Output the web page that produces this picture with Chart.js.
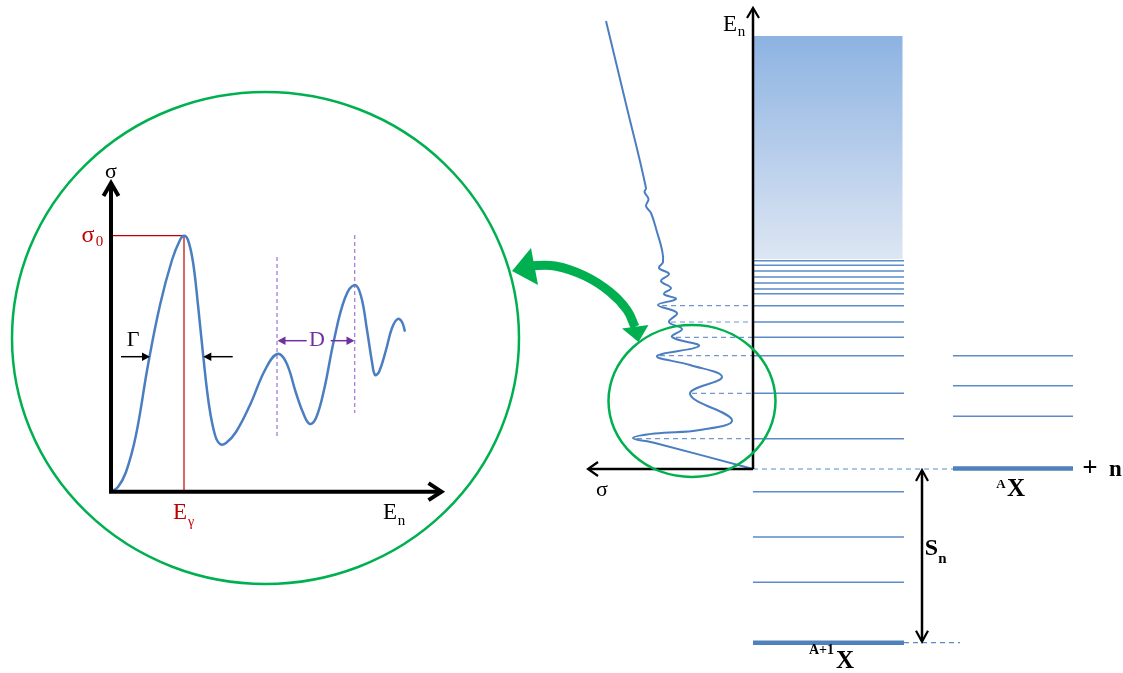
<!DOCTYPE html>
<html>
<head>
<meta charset="utf-8">
<script src="https://cdn.jsdelivr.net/npm/chart.js@4.4.0/dist/chart.umd.min.js"></script>
<style>
html, body { margin:0; padding:0; background:#fff; overflow:hidden; }
#c { display:block; }
</style>
</head>
<body>
<canvas id="c" width="1123" height="673"></canvas>
<script>
// diagram frame: x grows right, y grows down (same units as the picture)
var frameW = 1123, frameH = 673;

// inset: sigma(En) curve
var insetX = [111, 118, 126, 136, 148, 160, 172, 180, 184, 188, 193, 198, 203.3, 209, 215, 220, 226, 236, 250, 265, 277, 286, 296, 304, 310, 316, 324, 334, 345, 354.7, 361, 367, 372, 375, 379, 386, 392, 397.7, 402, 405];
var insetY = [491.7, 487, 472, 435, 365, 305, 260, 240, 235.7, 240, 262, 305, 356.7, 405, 435, 444, 443, 432, 405, 370, 354, 362, 393, 415, 424, 418, 390, 340, 298, 285, 296, 330, 362, 375, 372, 350, 328, 319, 322, 331.7];
var insetPeakX = 184, insetPeakY = 235.7;
var insetAxisX = 111, insetAxisY = 491.7;
var spacingLines = [277, 354.7];
var spacingTop = [257, 235];
var spacingBottom = [436.7, 413];

// right panel: sigma drawn leftwards, energy upwards
var sigmaCurveX = [606, 626, 646, 644.5, 648.5, 646, 651, 657, 662, 663, 659, 669, 661, 671, 664, 676, 658, 677, 669, 682, 672, 699, 657, 690, 722, 690, 732, 700, 655, 633, 655, 753];
var sigmaCurveY = [21, 104, 188, 192, 199, 206, 213, 232, 250, 262, 268, 274, 281, 288, 294, 299, 305, 313, 322, 329, 337, 346, 356, 365, 377, 394, 420, 430, 433.5, 438, 443, 469];
var peakSigma = [662, 671, 676, 660, 692, 637];
var peakLevels = [305.7, 322, 337.3, 355.7, 393.3, 438.7];
var resonanceLevels = [260.7, 265.3, 271, 277, 283, 289, 293.7, 305.7, 322, 337.3, 355.7, 393.3, 438.7];
var boundLevels = [491.7, 537, 582.3];
var groundLevel = 642.7;
var thresholdLevel = 469;
var targetLevels = [355.7, 385.7, 416.3];
var continuumTop = 36, continuumBottom = 259;
var levelLeft = 753, levelRight = 904;
var targetLeft = 953, targetRight = 1073;
var snArrowX = 922;

// green link arrow
var linkX = [527, 555, 585, 610, 627, 635];
var linkY = [266, 266, 276, 292, 310, 327];

var blue = '#4F81BD', curveBlue = '#4A7EC1', green = '#00B050', red = '#C00000', purple = '#7030A0';

function seg(xa, ya, xb, yb, color, width, dash, order) {
  return {
    data: [{x: xa, y: ya}, {x: xb, y: yb}],
    showLine: true, borderColor: color, borderWidth: width,
    borderDash: dash || [], pointRadius: 0, fill: false, order: order || 5
  };
}
function pts(xs, ys) {
  return xs.map(function(v, i) { return {x: v, y: ys[i]}; });
}

var datasets = [];
// continuum / levels
resonanceLevels.forEach(function(y) { datasets.push(seg(levelLeft, y, levelRight, y, '#5B8BC9', 1.5)); });
boundLevels.forEach(function(y) { datasets.push(seg(levelLeft, y, levelRight, y, '#5B8BC9', 1.5)); });
targetLevels.forEach(function(y) { datasets.push(seg(targetLeft, y, targetRight, y, '#5B8BC9', 1.5)); });
datasets.push(seg(levelLeft, groundLevel, levelRight, groundLevel, blue, 4.5));
datasets.push(seg(targetLeft, thresholdLevel - 0.5, targetRight, thresholdLevel - 0.5, blue, 4.5));
datasets.push(seg(levelLeft, thresholdLevel, targetLeft, thresholdLevel, '#5B8BC9', 1.2, [5, 4]));
datasets.push(seg(levelRight, groundLevel, 960, groundLevel, '#5B8BC9', 1.2, [5, 4]));
peakLevels.forEach(function(y, i) { datasets.push(seg(peakSigma[i], y, levelLeft, y, '#6F96CD', 1.2, [5, 4])); });
// sigma curve on the right
datasets.push({data: pts(sigmaCurveX, sigmaCurveY), showLine: true, borderColor: curveBlue, borderWidth: 2,
  tension: 0.4, pointRadius: 0, fill: false, order: 4});
// axes right
datasets.push(seg(levelLeft, thresholdLevel, levelLeft, 9, '#000', 2.5, null, 1));
datasets.push(seg(levelLeft, thresholdLevel, 589, thresholdLevel, '#000', 2.5, null, 1));
datasets.push(seg(snArrowX, thresholdLevel + 2, snArrowX, groundLevel - 2, '#000', 2.5, null, 1));
// inset
datasets.push(seg(insetAxisX, insetPeakY, insetPeakX, insetPeakY, red, 1.2));
datasets.push(seg(insetPeakX, insetPeakY, insetPeakX, insetAxisY, red, 1.2));
spacingLines.forEach(function(x, i) { datasets.push(seg(x, spacingTop[i], x, spacingBottom[i], '#A77FD6', 1.3, [4, 3])); });
datasets.push({data: pts(insetX, insetY), showLine: true, borderColor: curveBlue, borderWidth: 2.5,
  tension: 0.4, pointRadius: 0, fill: false, order: 3});
datasets.push(seg(insetAxisX, insetAxisY, insetAxisX, 185, '#000', 4, null, 1));
datasets.push(seg(insetAxisX - 2, insetAxisY, 439, insetAxisY, '#000', 4, null, 1));
// width arrows
datasets.push(seg(121, 356.7, 145, 356.7, '#000', 1.5, null, 2));
datasets.push(seg(232.7, 356.7, 208, 356.7, '#000', 1.5, null, 2));
datasets.push(seg(306.7, 340.7, 282, 340.7, purple, 1.5, null, 2));
datasets.push(seg(330.7, 340.7, 350, 340.7, purple, 1.5, null, 2));
// green link
datasets.push({data: pts(linkX, linkY), showLine: true, borderColor: green, borderWidth: 9,
  tension: 0.4, pointRadius: 0, fill: false, order: 0});

var labels = [
  ['σ', 111, 172, '22px', '#000', false],
  ['σ', 88, 236, '24px', red, false],
  ['0', 99.5, 242, '15px', red, false],
  ['Γ', 133, 340, '22px', '#000', false],
  ['D', 317, 340, '22px', purple, false],
  ['E', 180, 513, '23px', red, false],
  ['γ', 191, 522, '14px', red, false],
  ['E', 390, 513, '23px', '#000', false],
  ['n', 401.5, 521, '15px', '#000', false],
  ['E', 730, 24.5, '23px', '#000', false],
  ['n', 741.5, 32, '15px', '#000', false],
  ['σ', 602, 490, '22px', '#000', false],
  ['S', 931.5, 549, '24px', '#000', true],
  ['n', 942.5, 559.5, '15px', '#000', true],
  ['+', 1090, 469, '27px', '#000', true],
  ['n', 1115.5, 470.5, '23px', '#000', true],
  ['A', 1001, 484.5, '13px', '#000', true],
  ['X', 1016, 489.5, '25px', '#000', true],
  ['A+1', 821.5, 650, '14px', '#000', true],
  ['X', 845, 662, '25px', '#000', true]
];

var diagramPlugin = {
  id: 'diagram',
  beforeDatasetsDraw: function(chart) {
    var ctx = chart.ctx, xs = chart.scales.x, ys = chart.scales.y;
    var x0 = xs.getPixelForValue(levelLeft), x1 = xs.getPixelForValue(902.5);
    var y0 = ys.getPixelForValue(continuumTop), y1 = ys.getPixelForValue(continuumBottom);
    var g = ctx.createLinearGradient(0, y0, 0, y1);
    g.addColorStop(0, '#8DB3E2');
    g.addColorStop(1, '#DDE6F3');
    ctx.save();
    ctx.fillStyle = g;
    ctx.fillRect(x0, y0, x1 - x0, y1 - y0);
    ctx.restore();
  },
  afterDatasetsDraw: function(chart) {
    var ctx = chart.ctx, xs = chart.scales.x, ys = chart.scales.y;
    function px(v) { return xs.getPixelForValue(v); }
    function py(v) { return ys.getPixelForValue(v); }
    function ellipse(cx, cy, rx, ry) {
      ctx.beginPath();
      ctx.ellipse(px(cx), py(cy), Math.abs(px(cx + rx) - px(cx)), Math.abs(py(cy + ry) - py(cy)), 0, 0, Math.PI * 2);
      ctx.strokeStyle = green; ctx.lineWidth = 2.5; ctx.stroke();
    }
    function chevron(tx, ty, dx, dy, len, half, lw) {
      var a = px(tx), b = py(ty);
      ctx.beginPath();
      ctx.moveTo(a + dx * len - dy * half, b + dy * len + dx * half);
      ctx.lineTo(a, b);
      ctx.lineTo(a + dx * len + dy * half, b + dy * len - dx * half);
      ctx.strokeStyle = '#000'; ctx.lineWidth = lw; ctx.lineJoin = 'miter'; ctx.stroke();
    }
    function tri(p, color) {
      ctx.beginPath();
      ctx.moveTo(px(p[0]), py(p[1]));
      ctx.lineTo(px(p[2]), py(p[3]));
      ctx.lineTo(px(p[4]), py(p[5]));
      ctx.closePath();
      ctx.fillStyle = color; ctx.fill();
    }
    ctx.save();
    ellipse(265.5, 338, 253.5, 246);
    ellipse(692, 401, 83.5, 76);
    // axis arrowheads
    chevron(insetAxisX, 183, 0, 1, 13, 7.5, 4);
    chevron(441.5, insetAxisY, -1, 0, 13, 8.5, 4);
    chevron(levelLeft, 8, 0, 1, 10, 6, 2.2);
    chevron(588, thresholdLevel, 1, 0, 10, 7, 2.2);
    chevron(snArrowX, thresholdLevel + 1, 0, 1, 11, 6, 2.2);
    chevron(snArrowX, groundLevel - 1, 0, -1, 11, 6, 2.2);
    // small filled heads
    tri([150, 356.7, 142, 352.5, 142, 361], '#000');
    tri([203.3, 356.7, 211.3, 352.5, 211.3, 361], '#000');
    tri([277.5, 340.7, 285.5, 336.5, 285.5, 345], purple);
    tri([354.5, 340.7, 346.5, 336.5, 346.5, 345], purple);
    // green link heads
    tri([512, 271, 531, 248, 538, 285], green);
    tri([638.5, 342, 622, 328.5, 648.5, 325], green);
    // labels
    ctx.textAlign = 'center';
    ctx.textBaseline = 'middle';
    labels.forEach(function(l) {
      ctx.font = (l[5] ? 'bold ' : '') + l[3] + ' "Liberation Serif", serif';
      ctx.fillStyle = l[4];
      ctx.fillText(l[0], px(l[1]), py(l[2]));
    });
    ctx.restore();
  }
};

new Chart(document.getElementById('c'), {
  type: 'scatter',
  data: {datasets: datasets},
  options: {
    responsive: false,
    animation: false,
    devicePixelRatio: 1,
    events: [],
    layout: {padding: 0},
    scales: {
      x: {type: 'linear', min: 0, max: frameW, display: false},
      y: {type: 'linear', min: 0, max: frameH, reverse: true, display: false}
    },
    plugins: {legend: {display: false}, tooltip: {enabled: false}},
    elements: {point: {radius: 0}, line: {capBezierPoints: false}}
  },
  plugins: [diagramPlugin]
});
</script>
</body>
</html>
